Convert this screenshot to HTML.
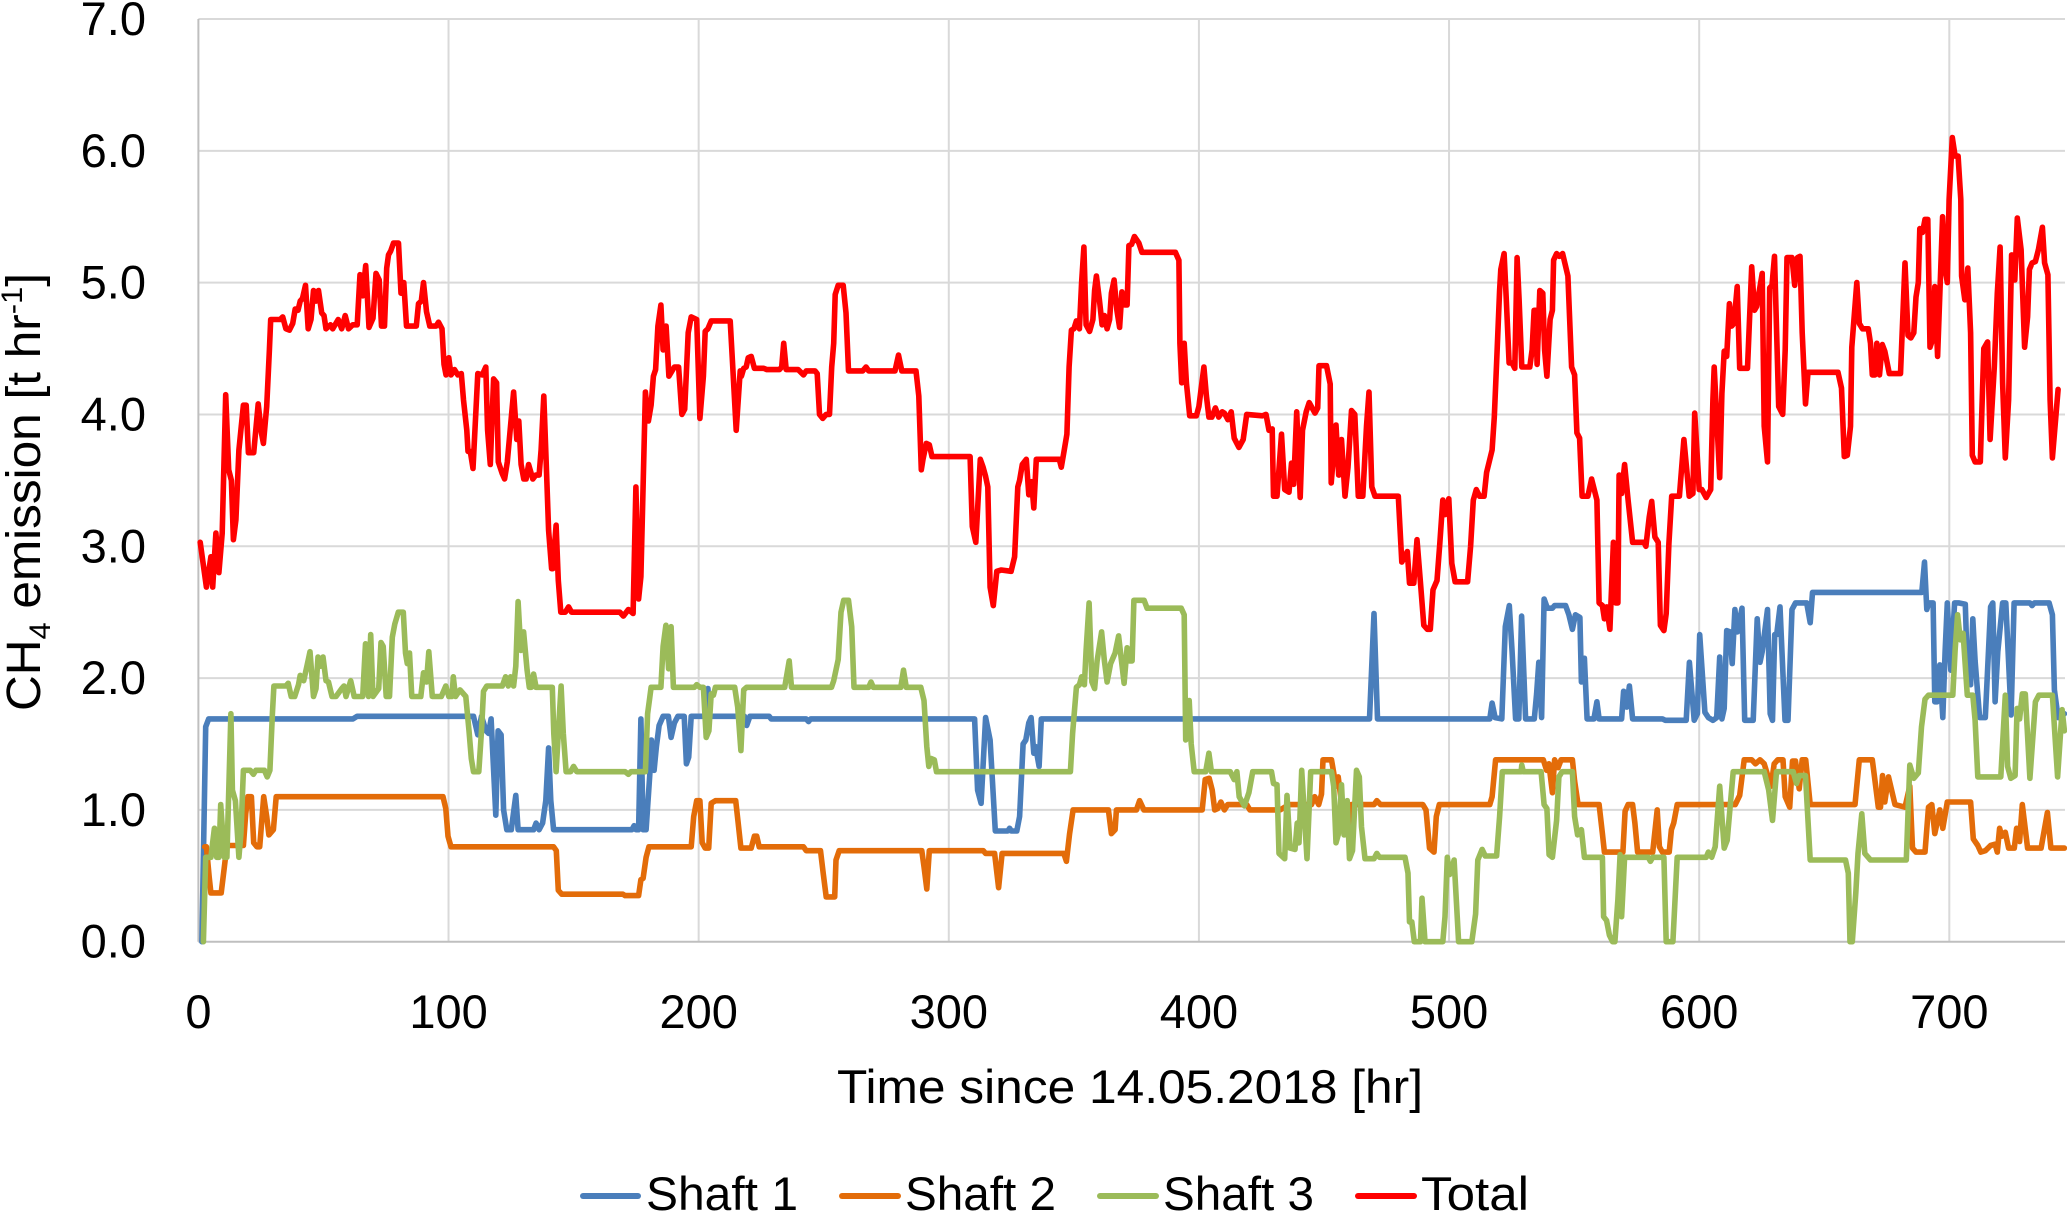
<!DOCTYPE html>
<html lang="en">
<head>
<meta charset="utf-8">
<title>CH4 emission time series</title>
<style>
html,body{margin:0;padding:0;background:#fff;}
#chart{display:block;width:2067px;height:1213px;}
text{font-family:"Liberation Sans",sans-serif;fill:#000;}
</style>
</head>
<body>
<svg id="chart" xmlns="http://www.w3.org/2000/svg" width="2067" height="1213" viewBox="0 0 2067 1213">
  <g id="grid"></g>
  <g id="axes"></g>
  <g id="series"></g>
  <g id="ticks"></g>
  <text transform="translate(40,711) rotate(-90)" font-size="48" textLength="438" lengthAdjust="spacingAndGlyphs">CH<tspan font-size="30" dy="10">4</tspan><tspan dy="-10"> emission [t hr</tspan><tspan font-size="30" dy="-18">-1</tspan><tspan dy="18">]</tspan></text>
  <text x="837" y="1103" font-size="47" textLength="586" lengthAdjust="spacingAndGlyphs">Time since 14.05.2018 [hr]</text>
  <g>
    <g>
      <line x1="583" y1="1196" x2="638" y2="1196" stroke="#4a7ebb" stroke-width="6" stroke-linecap="round"/>
      <text x="646" y="1210" font-size="47" textLength="152" lengthAdjust="spacingAndGlyphs">Shaft 1</text>
    </g>
    <g>
      <line x1="842" y1="1196" x2="898" y2="1196" stroke="#e36c09" stroke-width="6" stroke-linecap="round"/>
      <text x="905" y="1210" font-size="47" textLength="151" lengthAdjust="spacingAndGlyphs">Shaft 2</text>
    </g>
    <g>
      <line x1="1100" y1="1196" x2="1156" y2="1196" stroke="#9bbb59" stroke-width="6" stroke-linecap="round"/>
      <text x="1163" y="1210" font-size="47" textLength="151" lengthAdjust="spacingAndGlyphs">Shaft 3</text>
    </g>
    <g>
      <line x1="1358" y1="1196" x2="1414" y2="1196" stroke="#ff0000" stroke-width="6" stroke-linecap="round"/>
      <text x="1421" y="1210" font-size="47" textLength="108" lengthAdjust="spacingAndGlyphs">Total</text>
    </g>
  </g>
</svg>
<script>
const xTickLabels = [0,100,200,300,400,500,600,700];
const yTickLabels = ["0.0","1.0","2.0","3.0","4.0","5.0","6.0","7.0"];
const xMax = 746;
const yMax = 7;

const shaft1Hours = [1.4,2.9,4.1,61.8,63.5,110,111.7,113.2,115,116,117,118.9,119.8,121,122,123.3,125.1,126.9,127.8,134,135,136.2,137.6,138.9,140,140.9,142,173.3,174.2,175,176,176.9,177.8,179,180.5,181.1,182.2,183.1,184.2,185.8,187.9,189,190.3,191.7,194.2,195.1,196,197,200.6,203.2,203.7,204.4,218.3,219.2,220.5,228.2,229,243,243.9,244.8,310.3,311.5,312.9,314.7,316.5,318.6,323.6,324.3,325,327.2,328.3,329.7,330.8,332,332.9,334,334.7,336.1,337,468.2,470,471.4,516.3,517.2,518.4,521.1,522.5,524.1,525.2,526.6,527.9,529,530.6,534.1,535,535.9,537,538,539.3,541.3,542.2,546.6,547.9,549.3,550.5,552.3,552.9,554.1,555.2,557.9,559.1,560,569,569.8,571,572.1,573.4,585.3,586.4,594.8,596.1,598,599.3,600.2,602.3,603.7,605.5,607,608.2,609.1,610,611,612.3,613.2,614.3,615.3,617.1,618.2,621.6,623.2,624.3,625.2,627.3,628.4,629.3,630.2,631,632.3,634.3,635.5,637.1,638.5,643,644.4,645.3,689,690.1,691,691.8,693.5,694.2,695.1,696.2,697.4,698.3,699.2,700.6,702.1,703.7,706.4,707.2,708.5,709.4,710.3,712.1,714.4,716.5,717.4,718.3,719.4,721.3,722.6,724.7,725.9,732.2,733.1,734,739.9,741.2,742,743.5,746];
const shaft1Values = [0,1.63,1.69,1.69,1.71,1.71,1.57,1.71,1.6,1.58,1.69,0.96,1.6,1.57,1,0.85,0.85,1.11,0.85,0.85,0.9,0.85,0.9,1.07,1.47,1.07,0.85,0.85,0.88,0.85,0.85,1.69,0.85,0.85,1.28,1.53,1.3,1.48,1.64,1.71,1.71,1.55,1.66,1.71,1.71,1.35,1.4,1.71,1.71,1.71,1.92,1.71,1.71,1.64,1.71,1.71,1.69,1.69,1.67,1.69,1.69,1.15,1.05,1.7,1.53,0.84,0.84,0.86,0.84,0.84,0.95,1.5,1.53,1.66,1.7,1.43,1.48,1.33,1.69,1.69,2.49,1.69,1.69,1.81,1.7,1.69,2.39,2.55,2.2,1.69,1.69,2.47,1.69,1.69,1.88,2.12,1.7,2.6,2.53,2.53,2.55,2.55,2.48,2.37,2.48,2.46,1.97,2.15,1.69,1.69,1.82,1.69,1.69,1.9,1.78,1.94,1.69,1.69,1.68,1.68,2.12,1.68,1.73,2.33,1.74,1.7,1.68,1.7,2.16,1.69,1.77,2.36,2.35,2.11,2.52,2.35,2.53,1.68,1.68,2.45,2.12,2.2,2.52,1.73,1.68,2.33,2.33,2.54,1.68,1.68,2.52,2.57,2.57,2.42,2.65,2.65,2.88,2.52,2.57,2.57,1.82,1.82,2.1,1.7,2.2,2.57,2.06,2.57,2.57,2.56,2.08,1.95,2.45,2.13,1.7,1.7,2.54,2.57,1.82,2.2,2.57,2.57,1.72,2.57,2.57,2.55,2.57,2.57,2.48,1.91,1.7,1.73];

const shaft2Hours = [2.5,3.2,4.3,5,9.1,10.4,11.4,18,18.9,19.8,21.2,22.1,23.4,24.5,26.1,27.3,28.2,30,31.1,97.8,98.9,99.8,101,142,143.1,143.9,145.3,169.7,170.6,176,176.9,177.8,179,180.1,197,198,199.2,200.5,201.4,202.6,204,205,206.7,214.8,215.7,216.9,221,222.3,223.2,224.2,241.9,243,248.7,249.8,251,254.4,254.9,256.2,289.2,290.1,291.2,292.2,313.8,314.7,318.3,319.9,321.3,346,347,348.3,349.7,363.8,365,366.5,367,375,376.3,378,401.3,402.5,404.1,405.3,406.3,407.5,408.8,410.2,411.5,419.1,420.4,432.5,436,445,446.3,447.9,449,449.6,453,454.8,455.7,456.9,458.4,460,461,470,471.1,472.6,489.5,490.8,492.2,494,494.9,496.1,516.3,517.2,518.6,537.7,539,539.9,541.3,542.2,543.6,544.8,549.3,550.2,551.6,560,561.3,562.1,569.5,570.4,571.6,573.4,574.3,575.4,581.4,583.2,584.1,585.3,588,588.9,589.8,591.2,614.4,616.2,618,621,622.5,624.3,626,628.7,630,631.4,633.5,634.4,636.2,637.3,638.5,640,641.2,642.6,644.4,662.3,664,669.2,670.1,671.6,672.5,673.3,674.2,675.7,678.3,682.3,684.2,685.3,686.7,690.3,691.7,693,694.2,696.2,697.4,699.2,708.5,709.6,711.4,712.6,714.4,716.5,718.3,719.2,720.1,721,722.4,723.7,726,726.9,728.1,729.2,731.3,736.7,739.2,740.6,746.5];
const shaft2Values = [0.72,0.72,0.49,0.37,0.37,0.57,0.73,0.73,0.97,1.1,1.1,0.75,0.72,0.72,1.1,0.95,0.81,0.85,1.1,1.1,1.01,0.8,0.72,0.72,0.69,0.39,0.36,0.36,0.35,0.35,0.47,0.48,0.64,0.72,0.72,0.95,1.07,1.07,0.75,0.71,0.71,1.05,1.07,1.07,0.92,0.71,0.71,0.8,0.8,0.72,0.72,0.69,0.69,0.52,0.34,0.34,0.62,0.69,0.69,0.57,0.4,0.69,0.69,0.67,0.67,0.41,0.67,0.67,0.61,0.82,1,1,0.82,0.85,1,1,1.07,1,1,1.23,1.24,1.15,1,1.01,1.06,1,1.04,1.04,1,1,1.04,1.04,1.1,1.04,1.12,1.38,1.38,1.18,1.25,1.07,0.82,0.82,1.04,1.04,1.07,1.04,1.04,1,0.71,0.68,0.95,1.04,1.04,1.1,1.38,1.38,1.3,1.35,1.13,1.38,1.32,1.38,1.38,1.22,1.04,1.04,0.82,0.68,0.68,0.99,1.04,1.04,0.9,0.68,0.68,1,0.72,0.68,0.68,0.85,0.9,1.04,1.04,1.11,1.38,1.38,1.35,1.38,1.35,1.18,1.35,1.38,1.38,1.1,1.02,1.37,1.37,1.16,1.38,1.38,1.04,1.04,1.38,1.38,1.25,1.02,1.02,1.26,1.06,1.25,1.04,1.02,1.18,0.71,0.68,0.68,1.02,1.04,0.82,1,0.86,1.06,1.06,0.78,0.73,0.68,0.69,0.73,0.74,0.68,0.86,0.8,0.83,0.71,0.71,0.86,0.76,1.04,0.71,0.71,0.98,0.71,0.71];

const shaft3Hours = [2,2.9,5,6.4,7.3,8.2,8.9,10.4,11.4,13,13.6,14.8,16.2,17,18,20.7,22,23,26.4,27.5,28.6,29.6,30.2,35,35.9,37.1,38.5,40,40.7,42.1,43.5,44.6,46,47,47.8,48.9,49.8,51,52,53.4,55,57.3,58.2,59,60.9,62.3,65.7,66.8,68,68.9,69.8,72.1,73,73.9,75.1,76.4,77.5,78.5,79.9,81.9,82.8,83.5,84.4,85.3,88.9,90,91.2,92.1,93.5,97.1,98.9,100.1,101.4,101.9,102.8,104.6,106.9,108.2,109.1,110,112.1,113.2,114,115.3,121.5,122.8,123.9,124.8,126,126.9,127.8,128.9,130,131.4,132.3,133.1,134,135,141.5,142.1,143,143.9,145,145.9,147,148.8,150,151.3,170.6,171.9,172.9,178.7,179.6,180.5,181,184.9,185.8,186.9,188,189,189.9,198.3,199.2,200.5,201.9,203,204.1,205,205.9,206.7,214.4,215.6,216.9,218,219.2,234.4,236.2,237.1,253.1,254,255.8,256.9,258,259.9,261.2,262.1,268,268.9,269.8,280.8,281.9,283,288.8,290.1,291.2,292,292.9,294.2,295.1,348.6,349.5,351,352.2,353.1,354.2,354.9,356.1,357.2,358.3,359.3,361.1,362.2,363.3,364.7,366.5,367.9,370.1,371.3,372.2,373.3,374,378.1,379.3,392.9,394.1,394.7,396.1,396.9,398.1,402.7,404,405,412.5,414.1,415.2,416.1,418.2,420,421.5,429,429.8,431.2,432,434.3,435.2,436.4,438.4,439.3,440,441.1,443.2,444.7,453,453.9,454.8,455.7,457,458,459.3,460.2,461.4,463,464.1,465,466.4,470,471.1,472.2,482.4,483.6,484.2,485.1,486.1,488.6,489.2,490.4,497.5,498.4,499.3,500.2,501.1,502,503.8,509.1,510.6,511.5,513.2,514.5,519,520.2,521.3,528.8,529.1,529.7,536.8,538,539.1,540,541.3,543,543.9,545.2,549.3,550.2,551.4,552.9,554.1,561.3,561.8,563,564.1,565.4,566.3,567.5,568.4,569,570.2,579.6,580.5,581.4,585.9,586.8,589.5,591.2,602.8,603.7,605,606.4,608.2,610,611.2,613.6,626,627.8,629.3,630.9,637.6,638.9,640,642.5,644.4,658.5,659.6,660.3,661.2,662.6,663.5,665,666.2,668.5,682.8,684.2,685.8,687.6,688.9,690.3,691.7,701.4,702.3,703.3,704.4,705.5,707.2,709.4,710.3,711.4,720.6,722.4,723.3,724.6,726.3,727.1,728.1,729.2,730.4,732.2,734.4,735.8,741.2,743.3,745.1,746.5];
const shaft3Values = [0,0.64,0.64,0.86,0.64,0.64,1.04,0.64,0.64,1.73,1.15,1.07,0.64,0.82,1.3,1.3,1.27,1.3,1.3,1.25,1.3,1.73,1.94,1.94,1.96,1.86,1.86,1.95,2.02,1.98,2.1,2.2,1.86,1.92,2.16,2.09,2.16,1.98,1.97,1.86,1.86,1.92,1.94,1.86,1.98,1.86,1.86,2.26,1.86,2.33,1.86,1.92,2.27,2.24,1.86,1.86,2.31,2.41,2.5,2.5,2.19,2.11,2.19,1.86,1.86,2.04,1.97,2.2,1.86,1.86,1.94,1.86,1.86,2.01,1.86,1.91,1.86,1.6,1.39,1.29,1.29,1.6,1.9,1.94,1.94,2.01,1.94,2.01,1.94,2.09,2.58,2.21,2.35,2.06,1.93,1.93,2.03,1.93,1.93,1.58,1.29,1.58,1.94,1.58,1.29,1.29,1.33,1.29,1.29,1.27,1.29,1.29,1.73,1.86,1.93,1.93,2.24,2.4,2.07,2.39,1.93,1.93,1.95,1.93,1.93,1.55,1.6,1.88,1.87,1.93,1.93,1.78,1.45,1.91,1.93,1.93,2.13,1.93,1.93,1.98,2.14,2.5,2.59,2.59,2.39,1.93,1.93,1.97,1.93,1.93,2.06,1.93,1.93,1.83,1.48,1.33,1.39,1.38,1.29,1.29,1.58,1.93,1.95,2.01,1.95,2.21,2.57,1.97,1.92,2.13,2.35,2.13,1.97,2.11,2.19,2.32,1.96,2.23,2.13,2.13,2.59,2.59,2.53,2.53,2.48,1.53,1.83,1.5,1.29,1.29,1.43,1.29,1.29,1.23,1.29,1.1,1.03,1.13,1.29,1.29,1.2,1.19,0.67,0.63,1.11,0.71,0.7,0.9,0.75,1.3,0.63,1.29,1.29,1.18,0.75,0.81,1.19,0.81,1.07,0.63,0.69,1.3,1.25,0.87,0.63,0.63,0.67,0.64,0.64,0.52,0.15,0.15,0,0,0.33,0,0,0.19,0.64,0.51,0.55,0.62,0,0,0.21,0.62,0.7,0.65,0.65,0.95,1.29,1.29,1.34,1.29,1.29,1.04,1.01,0.66,0.64,0.92,1.25,1.29,1.29,0.95,0.81,0.85,0.64,0.64,0.19,0.16,0.05,0,0,0.32,0.66,0.19,0.64,0.64,0.61,0.64,0.64,0,0,0.64,0.64,0.68,0.64,0.72,1.18,0.71,0.77,1.29,1.29,1.15,0.92,1.29,1.29,1.2,1.26,1.26,0.62,0.62,0.52,0,0,0.37,0.67,0.97,0.67,0.62,0.62,1.34,1.24,1.28,1.63,1.84,1.87,1.87,2.21,2.48,2.29,2.34,1.87,1.87,1.68,1.25,1.25,1.87,1.33,1.24,1.26,1.77,1.69,1.88,1.88,1.24,1.82,1.87,1.87,1.25,1.76,1.6];

const totalHours = [0.7,3.2,5,5.7,7,8.2,9.5,10.9,12.1,13.2,14,15,16.2,18,19.1,20,22.1,23.9,25.2,26,27.3,28.4,28.9,32.7,33.7,35,36.4,37.7,38.7,39.8,40.7,41.6,42.8,43.9,45,46,47,48,49.3,50.2,51,52.8,53.7,55.9,57.3,58.7,60,61.7,63.5,64.6,65.7,66.9,68.2,69.8,71,72.3,73.2,74.4,75.3,76,76.9,78,80,81,82.1,83.2,87.1,88,89.1,90,91.2,92.5,95,96,97.4,98.2,99,100.1,101,102.4,103.7,105.1,106,107.3,107.8,108.7,109.8,111.7,113.5,114.9,115.6,116.7,118,119.2,119.9,121.5,122.4,123.5,126,127.3,128.1,129,130.1,131,132,133.7,134.9,136.2,137,138.1,139.2,140,141.2,141.7,143,143.9,144.9,146.7,148,149.2,168.5,169.9,171.9,173.8,174.9,176,176.9,178.7,179.9,181,181.9,182.8,183.7,184.9,185.8,187,188.1,190.3,192,193.3,194.4,195.8,197,199.2,200.5,201.9,202.6,203.7,205,212.6,213.5,215,216.6,217.1,218,219,219.8,221,222.3,226,227.3,232.3,233.2,234,235,239.8,241.9,243,246.5,247.4,248.3,249.6,251,252.3,253.2,254,254.6,255.8,257.8,258.9,259.9,265.6,266.9,268,278.5,279.9,281.2,286.9,288,289,289.7,291,292.2,293.3,308.5,309.4,310.8,312.6,313.7,314.7,315.6,316.5,317.8,319.2,321,324.9,326.3,327.6,328.3,329.4,331,332,333.1,334,335,344.2,345,346,347.2,348.1,349,350,351,352.2,353.1,354,354.9,356.3,357.6,358.3,359,360.2,361.3,362.2,363.3,364.3,365,366.1,367.2,368.3,369.2,370.4,371.3,372,373.1,374.2,376,377.2,390.6,392,392.4,393.1,394.1,395,396.3,399,400,402,403,404,405.2,406.6,407.9,409.3,410.2,411.6,412.9,414.1,416,417.7,419.1,425.4,426.8,428,429.3,429.8,431.2,433,434.3,436,437,437.9,439.1,440.5,441.4,442.9,444.1,446.4,447.5,448,451,452.5,452.9,454.8,455.9,457,458.4,459.6,461,462.3,463.7,465.5,467,468,469.1,470.4,479.7,481.1,483.3,484.2,485.9,487.2,488.6,489.9,491.3,492.5,493.6,495.2,496.3,497.5,498.4,499.9,501.1,502.4,507.4,508.6,509.7,510.9,512.2,514,515,517.2,518.1,519,520.2,520.7,522,522.9,524,525.2,526.3,527.2,528,529.1,532.3,533.2,534,534.7,535.2,536.3,537.5,538.2,539.1,540.4,541.3,541.8,543,544.1,545.4,547.5,549,550.2,551.1,552.2,553.2,555.5,557,559.1,560,561.3,562.1,563,564.3,565.7,566.6,567.5,568,569,570.2,571.6,573.4,577.9,578.7,580,581,582.3,583.6,584.5,585.9,586.8,587.9,589,592.1,593.9,596,597.5,598.2,600,601.1,602.8,604.6,605.5,606,608.2,609.1,610,611,612.1,613,613.9,615.2,616.2,619.3,621,622.1,623,625.2,626,627.3,628.2,629.1,630.1,631.8,633.4,634.4,635.1,637.1,638.2,639.3,640.3,641.2,642.5,643.5,655.5,656.9,658,659.2,660.5,661,663,664,665.3,667.6,668.5,669.2,670.3,671,672.1,673.2,674.2,676,680.5,682.3,683.5,684.6,685.8,686.7,687.6,688.2,689.3,690.3,691.4,692.3,693.5,694.2,695.3,697.3,698.2,699.2,699.9,701.2,702.3,703.5,704.6,704.9,706.2,707.4,708.5,709.2,710.3,712.4,713.8,715.3,716.3,718,719.2,720.3,721.3,722.4,723.7,724.9,726.2,727.2,728.7,730.1,731.3,732,733.1,734.4,735.6,737.2,738.1,739.4,740.3,741.2,743.5];
const totalValues = [3.03,2.69,2.92,2.69,3.1,2.8,3.1,4.15,3.58,3.5,3.05,3.2,3.73,4.07,4.07,3.71,3.71,4.08,3.86,3.78,4.06,4.49,4.72,4.72,4.74,4.65,4.64,4.69,4.8,4.79,4.86,4.88,4.98,4.65,4.72,4.94,4.86,4.94,4.77,4.75,4.65,4.68,4.65,4.72,4.65,4.75,4.65,4.68,4.68,5.06,4.9,5.13,4.66,4.73,5.07,5.02,4.67,4.67,5.11,5.21,5.24,5.3,5.3,4.92,5,4.67,4.67,4.84,4.86,5,4.78,4.67,4.67,4.7,4.65,4.38,4.3,4.43,4.3,4.34,4.3,4.31,4.11,3.88,3.72,3.72,3.59,4.31,4.3,4.36,3.88,3.62,4.27,4.24,3.64,3.55,3.51,3.64,4.17,3.81,3.95,3.62,3.51,3.51,3.62,3.51,3.54,3.54,3.73,4.14,3.55,3.12,2.83,2.83,3.16,2.74,2.5,2.5,2.54,2.5,2.5,2.47,2.52,2.49,3.45,2.6,2.77,4.17,3.95,4.07,4.29,4.34,4.67,4.83,4.49,4.67,4.29,4.36,4.36,4,4.04,4.62,4.74,4.72,3.97,4.29,4.63,4.65,4.71,4.71,4.41,3.88,4.33,4.29,4.35,4.36,4.43,4.44,4.35,4.35,4.34,4.34,4.36,4.54,4.34,4.34,4.3,4.33,4.33,4.31,4,3.97,4,4,4.36,4.54,4.91,4.98,4.98,4.77,4.33,4.33,4.36,4.33,4.33,4.45,4.33,4.33,4.14,3.58,3.66,3.78,3.77,3.68,3.68,3.15,3.03,3.66,3.6,3.53,3.45,2.69,2.55,2.81,2.82,2.81,2.92,3.45,3.5,3.62,3.66,3.39,3.49,3.29,3.66,3.66,3.6,3.71,3.85,4.36,4.64,4.65,4.71,4.65,5,5.27,4.68,4.63,4.72,4.94,5.05,4.87,4.68,4.75,4.65,4.72,4.92,5.02,4.79,4.66,4.93,4.83,4.83,5.28,5.29,5.35,5.3,5.23,5.23,5.17,4.54,4.24,4.54,4.24,3.99,3.99,4.06,4.36,4.14,3.98,3.98,4.05,3.98,4.02,4.01,3.96,4.02,3.82,3.75,3.81,4,3.99,4,3.88,3.89,3.38,3.38,3.85,3.43,3.41,3.63,3.47,4.02,3.37,3.88,4.02,4.09,4.01,4.05,4.37,4.37,4.23,3.48,3.92,3.54,3.81,3.38,3.6,4.03,4,3.38,3.38,3.91,4.17,3.45,3.38,3.38,2.88,2.96,2.72,2.72,3.05,2.72,2.4,2.37,2.37,2.67,2.74,3.02,3.35,3.24,3.36,2.87,2.73,2.73,3,3.35,3.43,3.38,3.38,3.56,3.73,3.98,4.39,4.94,5.1,5.22,4.87,4.39,4.39,4.35,5.19,4.87,4.36,4.36,4.49,4.79,4.79,4.38,4.94,4.92,4.49,4.29,4.72,4.79,5.17,5.22,5.2,5.22,5.05,4.36,4.3,3.86,3.82,3.38,3.38,3.51,3.35,2.57,2.55,2.45,2.54,2.37,3.03,2.57,2.57,3.54,3.4,3.62,3.35,3.03,3.03,3,3.22,3.34,3.07,3.03,2.4,2.36,2.49,3.02,3.38,3.38,3.81,3.38,3.4,4.01,3.43,3.43,3.37,3.43,4.11,4.36,3.52,4.16,4.48,4.44,4.84,4.67,4.69,4.97,4.35,4.35,5.12,4.79,4.82,5.07,3.91,3.64,4.96,4.98,5.2,4.06,4,4.49,5.19,5.19,4.98,5.19,5.2,4.62,4.08,4.32,4.32,4.2,3.68,3.69,3.91,4.51,5,4.69,4.65,4.65,4.54,4.3,4.3,4.54,4.3,4.53,4.48,4.31,4.31,5.15,4.6,4.58,4.62,4.89,5,5.41,5.38,5.48,5.48,4.51,4.58,4.97,4.44,5.5,5.12,5,5.63,6.1,5.96,5.96,5.63,5.05,4.87,5.11,4.62,3.69,3.64,3.64,4.5,4.55,3.81,4.36,4.92,5.27,4.24,3.67,4.11,5.21,5.02,5.49,5.25,4.51,4.74,5.1,5.15,5.16,5.25,5.42,5.15,5.06,4.11,3.67,4.19];

const plotLeft = 198.4;
const plotRight = 2065;
const plotTop = 19;
const plotBottom = 941.7;
const SVGNS = "http://www.w3.org/2000/svg";

function xScale(hour){ return plotLeft + hour * 2.5013; }
function yScale(value){ return plotBottom - (value / yMax) * (plotBottom - plotTop); }
function make(tag, parent){
  const el = document.createElementNS(SVGNS, tag);
  parent.appendChild(el);
  return el;
}

const gridGroup = document.getElementById("grid");
const axesGroup = document.getElementById("axes");
const seriesGroup = document.getElementById("series");
const ticksGroup = document.getElementById("ticks");

xTickLabels.forEach(function(label){
  if (label > 0) {
    const gl = make("line", gridGroup);
    
    
    gl.setAttribute("x1", xScale(label));
    gl.setAttribute("x2", xScale(label));
    gl.setAttribute("y1", plotTop);
    gl.setAttribute("y2", plotBottom);
    gl.setAttribute("stroke", "#d9d9d9");
    gl.setAttribute("stroke-width", "2");
  }
  const t = make("text", ticksGroup);
  
  
  t.setAttribute("x", xScale(label));
  t.setAttribute("y", 1028);
  t.setAttribute("font-size", "47");
  t.setAttribute("text-anchor", "middle");
  t.textContent = label;
});

yTickLabels.forEach(function(label){
  const v = parseFloat(label);
  if (v > 0) {
    const gl = make("line", gridGroup);
    
    
    gl.setAttribute("x1", plotLeft);
    gl.setAttribute("x2", plotRight);
    gl.setAttribute("y1", yScale(v));
    gl.setAttribute("y2", yScale(v));
    gl.setAttribute("stroke", "#d9d9d9");
    gl.setAttribute("stroke-width", "2");
  }
  const t = make("text", ticksGroup);
  
  
  t.setAttribute("x", 146);
  t.setAttribute("y", yScale(v) + 16);
  t.setAttribute("font-size", "47");
  t.setAttribute("text-anchor", "end");
  t.textContent = label;
});

const yAxisLine = make("line", axesGroup);


yAxisLine.setAttribute("x1", plotLeft);
yAxisLine.setAttribute("x2", plotLeft);
yAxisLine.setAttribute("y1", plotTop);
yAxisLine.setAttribute("y2", plotBottom);
yAxisLine.setAttribute("stroke", "#bfbfbf");
yAxisLine.setAttribute("stroke-width", "2");

const xAxisLine = make("line", axesGroup);


xAxisLine.setAttribute("x1", plotLeft);
xAxisLine.setAttribute("x2", plotRight);
xAxisLine.setAttribute("y1", plotBottom);
xAxisLine.setAttribute("y2", plotBottom);
xAxisLine.setAttribute("stroke", "#bfbfbf");
xAxisLine.setAttribute("stroke-width", "2");

function drawSeries(hours, values, colour){
  const n = Math.min(hours.length, values.length);
  let d = "";
  for (let i = 0; i < n; i++) {
    const h = Math.min(hours[i], xMax);
    d += (i ? "L" : "M") + xScale(h).toFixed(1) + " " + yScale(values[i]).toFixed(1);
  }
  const p = make("path", seriesGroup);
  p.setAttribute("d", d);
  p.setAttribute("fill", "none");
  p.setAttribute("stroke", colour);
  p.setAttribute("stroke-width", "5.6");
  p.setAttribute("stroke-linejoin", "round");
  p.setAttribute("stroke-linecap", "round");
  return p;
}

const shaft1Line = drawSeries(shaft1Hours, shaft1Values, "#4a7ebb");


const shaft2Line = drawSeries(shaft2Hours, shaft2Values, "#e36c09");


const shaft3Line = drawSeries(shaft3Hours, shaft3Values, "#9bbb59");


const totalLine = drawSeries(totalHours, totalValues, "#ff0000");


</script>
</body>
</html>
